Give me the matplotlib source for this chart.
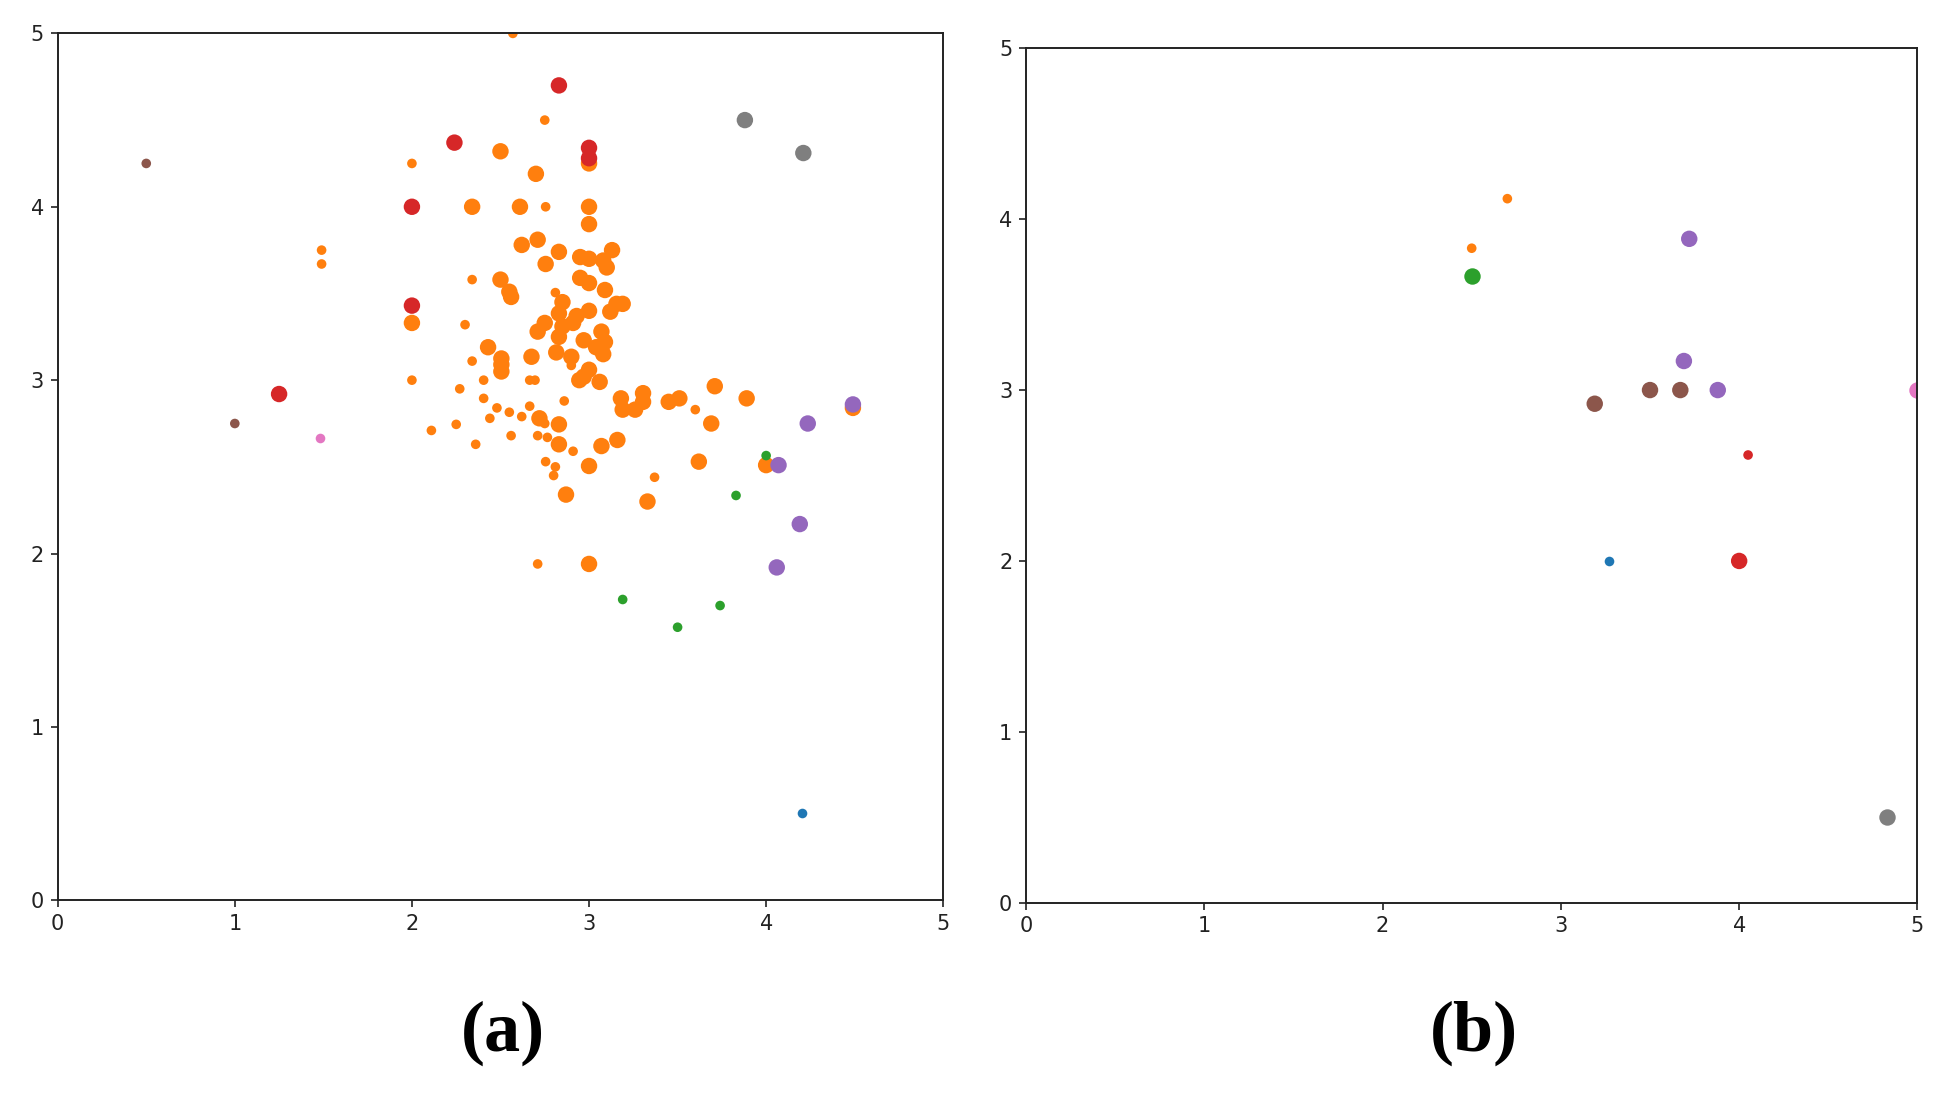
import matplotlib
matplotlib.use("Agg")
import matplotlib.pyplot as plt

# ---------------- data: panel (a) ----------------
# weight: 1 = small marker, 2 = large marker
a_orange_x = [2.70, 2.50, 3.00, 2.00, 2.34, 2.61, 3.00, 3.00, 2.62, 2.71, 2.83, 2.755, 2.95, 3.00,
              3.13, 3.08, 3.10, 2.95, 3.00, 3.09, 2.50, 2.55, 2.56, 2.85, 3.155, 3.19, 3.12, 3.00,
              2.93, 2.83, 2.75, 2.71, 2.85, 2.91, 3.07, 2.83, 2.97, 3.09, 3.04, 3.08, 2.815, 2.90,
              3.00, 2.97, 2.43, 2.675, 2.505, 2.505, 2.505, 2.945, 3.06, 3.18, 3.305, 3.305, 3.19,
              3.26, 3.45, 3.51, 3.71, 3.89, 3.69, 4.49, 2.72, 2.83, 2.83, 3.07, 3.16, 3.00, 3.62,
              4.00, 2.87, 3.33, 3.00,
              2.57, 2.75, 2.00, 2.755, 1.49, 1.49, 2.34, 2.81, 2.30, 2.34, 2.90, 2.00, 2.27, 2.405,
              2.665, 2.695, 2.405, 2.48, 2.55, 2.62, 2.665, 2.44, 2.86, 2.75, 2.25, 2.11, 2.36, 2.56,
              2.71, 2.765, 2.91, 2.755, 2.81, 2.80, 3.37, 3.60, 2.71]
a_orange_y = [4.19, 4.32, 4.25, 3.33, 4.00, 4.00, 4.00, 3.90, 3.78, 3.81, 3.74, 3.67, 3.71, 3.70,
              3.75, 3.69, 3.65, 3.59, 3.56, 3.52, 3.58, 3.51, 3.48, 3.45, 3.44, 3.44, 3.395, 3.40,
              3.37, 3.385, 3.33, 3.28, 3.31, 3.33, 3.28, 3.25, 3.23, 3.22, 3.19, 3.15, 3.16, 3.135,
              3.06, 3.02, 3.19, 3.135, 3.125, 3.09, 3.05, 3.00, 2.99, 2.895, 2.925, 2.875, 2.83,
              2.83, 2.875, 2.895, 2.965, 2.895, 2.75, 2.84, 2.78, 2.745, 2.63, 2.62, 2.655, 2.505, 2.53,
              2.51, 2.34, 2.30, 1.94,
              5.00, 4.50, 4.25, 4.00, 3.75, 3.67, 3.58, 3.505, 3.32, 3.11, 3.085, 3.00, 2.95, 3.00,
              3.00, 3.00, 2.895, 2.84, 2.815, 2.79, 2.85, 2.78, 2.88, 2.75, 2.745, 2.71, 2.63, 2.68,
              2.68, 2.67, 2.59, 2.53, 2.50, 2.45, 2.44, 2.83, 1.94]
a_orange_w = [2] * 73 + [1] * 37

a_blue_x, a_blue_y, a_blue_w = [4.20], [0.505], [1]
a_green_x = [4.00, 3.83, 3.19, 3.74, 3.50]
a_green_y = [2.565, 2.335, 1.735, 1.70, 1.575]
a_green_w = [1, 1, 1, 1, 1]
a_red_x = [2.00, 2.00, 2.24, 2.83, 3.00, 3.00, 1.25]
a_red_y = [4.00, 3.43, 4.37, 4.70, 4.34, 4.28, 2.92]
a_red_w = [2, 2, 2, 2, 2, 2, 2]
a_purple_x = [4.49, 4.235, 4.07, 4.19, 4.06]
a_purple_y = [2.86, 2.75, 2.51, 2.17, 1.92]
a_purple_w = [2, 2, 2, 2, 2]
a_brown_x, a_brown_y, a_brown_w = [0.50, 1.00], [4.25, 2.75], [1, 1]
a_pink_x, a_pink_y, a_pink_w = [1.48], [2.665], [1]
a_grey_x, a_grey_y, a_grey_w = [3.88, 4.21], [4.50, 4.31], [2, 2]

# ---------------- data: panel (b) ----------------
b_blue_x, b_blue_y, b_blue_w = [3.27], [2.00], [1]
b_orange_x, b_orange_y, b_orange_w = [2.70, 2.50], [4.12, 3.83], [1, 1]
b_green_x, b_green_y, b_green_w = [2.50], [3.665], [2]
b_red_x, b_red_y, b_red_w = [4.05, 4.00], [2.62, 2.00], [1, 2]
b_purple_x = [3.72, 3.69, 3.88]
b_purple_y = [3.885, 3.17, 3.00]
b_purple_w = [2, 2, 2]
b_brown_x = [3.19, 3.50, 3.67]
b_brown_y = [2.92, 3.00, 3.00]
b_brown_w = [2, 2, 2]
b_pink_x, b_pink_y, b_pink_w = [5.00], [3.00], [2]
b_grey_x, b_grey_y, b_grey_w = [4.83], [0.50], [2]

ticks = [0, 1, 2, 3, 4, 5]
panel_labels = ["(a)", "(b)"]

# ---------------- styling ----------------
size_map = {1: 48, 2: 140}
colors = {"blue": "#1f77b4", "orange": "#ff7f0e", "green": "#2ca02c", "red": "#d62728",
          "purple": "#9467bd", "brown": "#8c564b", "pink": "#e377c2", "grey": "#7f7f7f"}

fig = plt.figure(figsize=(19.39, 10.95), dpi=100)
ax_a = fig.add_axes([0.02976, 0.1778, 0.4567, 0.7917])
ax_b = fig.add_axes([0.5291, 0.1756, 0.4598, 0.7803])

series_a = [("blue", a_blue_x, a_blue_y, a_blue_w),
            ("orange", a_orange_x, a_orange_y, a_orange_w),
            ("green", a_green_x, a_green_y, a_green_w),
            ("red", a_red_x, a_red_y, a_red_w),
            ("purple", a_purple_x, a_purple_y, a_purple_w),
            ("brown", a_brown_x, a_brown_y, a_brown_w),
            ("pink", a_pink_x, a_pink_y, a_pink_w),
            ("grey", a_grey_x, a_grey_y, a_grey_w)]
series_b = [("blue", b_blue_x, b_blue_y, b_blue_w),
            ("orange", b_orange_x, b_orange_y, b_orange_w),
            ("green", b_green_x, b_green_y, b_green_w),
            ("red", b_red_x, b_red_y, b_red_w),
            ("purple", b_purple_x, b_purple_y, b_purple_w),
            ("brown", b_brown_x, b_brown_y, b_brown_w),
            ("pink", b_pink_x, b_pink_y, b_pink_w),
            ("grey", b_grey_x, b_grey_y, b_grey_w)]

for ax, series in ((ax_a, series_a), (ax_b, series_b)):
    for name, xs, ys, ws in series:
        ax.scatter(xs, ys, s=[size_map[w] for w in ws], color=colors[name],
                   linewidths=0, zorder=2)
    ax.set_xlim(0, 5)
    ax.set_ylim(0, 5)
    ax.set_xticks(ticks)
    ax.set_yticks(ticks)
    ax.set_xticklabels([str(t) for t in ticks])
    ax.set_yticklabels([str(t) for t in ticks])
    ax.tick_params(labelsize=15, length=4.8, width=1.2, pad=5, colors="#222222")
    for sp in ax.spines.values():
        sp.set_linewidth(1.4)
        sp.set_color("#222222")

fig.text(0.2592, 0.0568, panel_labels[0], ha="center", va="center",
         fontsize=52, fontweight="bold", family="Liberation Serif")
fig.text(0.7602, 0.0568, panel_labels[1], ha="center", va="center",
         fontsize=52, fontweight="bold", family="Liberation Serif")

fig.savefig("out.png", dpi=100)
